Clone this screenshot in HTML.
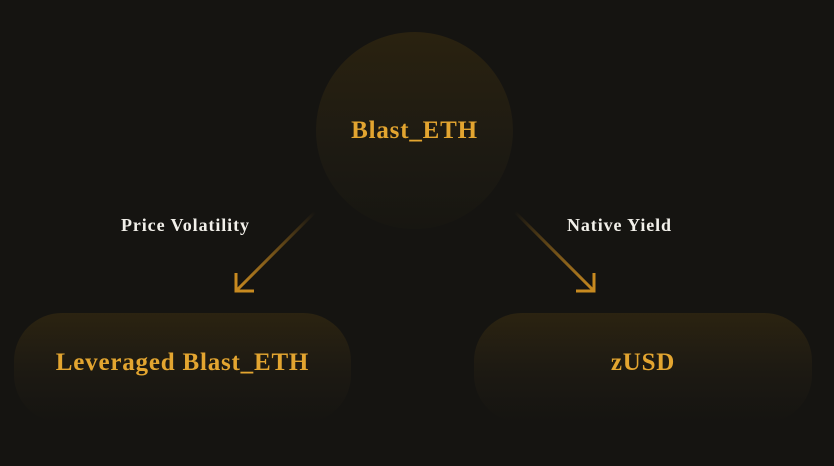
<!DOCTYPE html>
<html><head><style>
html,body{margin:0;padding:0;}
body{width:834px;height:466px;background:#151411;position:relative;overflow:hidden;font-family:"Liberation Serif",serif;font-weight:bold;}
.circle{position:absolute;left:316px;top:32px;width:197px;height:197px;border-radius:50%;background:linear-gradient(180deg,#2a2210 0%,#1d1a12 60%,#171611 100%);}
.box{position:absolute;top:313px;height:110px;border-radius:48px;background:linear-gradient(180deg,#2b2311 0%,#1c1912 55%,#151411 100%);}
.t{position:absolute;color:#e3a530;font-size:25px;text-align:center;letter-spacing:0.8px;}
.l{position:absolute;color:#f2f0ea;font-size:18px;letter-spacing:0.9px;}
</style></head><body>
<div class="circle"></div>
<div class="box" style="left:14px;width:337px"></div>
<div class="box" style="left:474px;width:338px"></div>
<div class="t" style="left:316px;width:197px;top:117px">Blast_ETH</div>
<div class="t" style="left:14px;width:337px;top:349px">Leveraged Blast_ETH</div>
<div class="t" style="left:474px;width:338px;top:349px">zUSD</div>
<div class="l" style="left:121px;top:215px">Price Volatility</div>
<div class="l" style="left:567px;top:215px">Native Yield</div>
<svg width="834" height="466" style="position:absolute;left:0;top:0">
<defs>
<linearGradient id="g1" x1="315" y1="212" x2="236" y2="291" gradientUnits="userSpaceOnUse"><stop offset="0" stop-color="#c88a20" stop-opacity="0"/><stop offset="1" stop-color="#c88a20"/></linearGradient>
<linearGradient id="g2" x1="515" y1="212" x2="594" y2="291" gradientUnits="userSpaceOnUse"><stop offset="0" stop-color="#c88a20" stop-opacity="0"/><stop offset="1" stop-color="#c88a20"/></linearGradient>
</defs>
<path d="M315 212 L237 290" stroke="url(#g1)" stroke-width="3" fill="none"/>
<path d="M236 273 L236 291 L254 291" stroke="#c88a20" stroke-width="3" fill="none"/>
<path d="M515 212 L593 290" stroke="url(#g2)" stroke-width="3" fill="none"/>
<path d="M594 273 L594 291 L576 291" stroke="#c88a20" stroke-width="3" fill="none"/>
</svg>
</body></html>
